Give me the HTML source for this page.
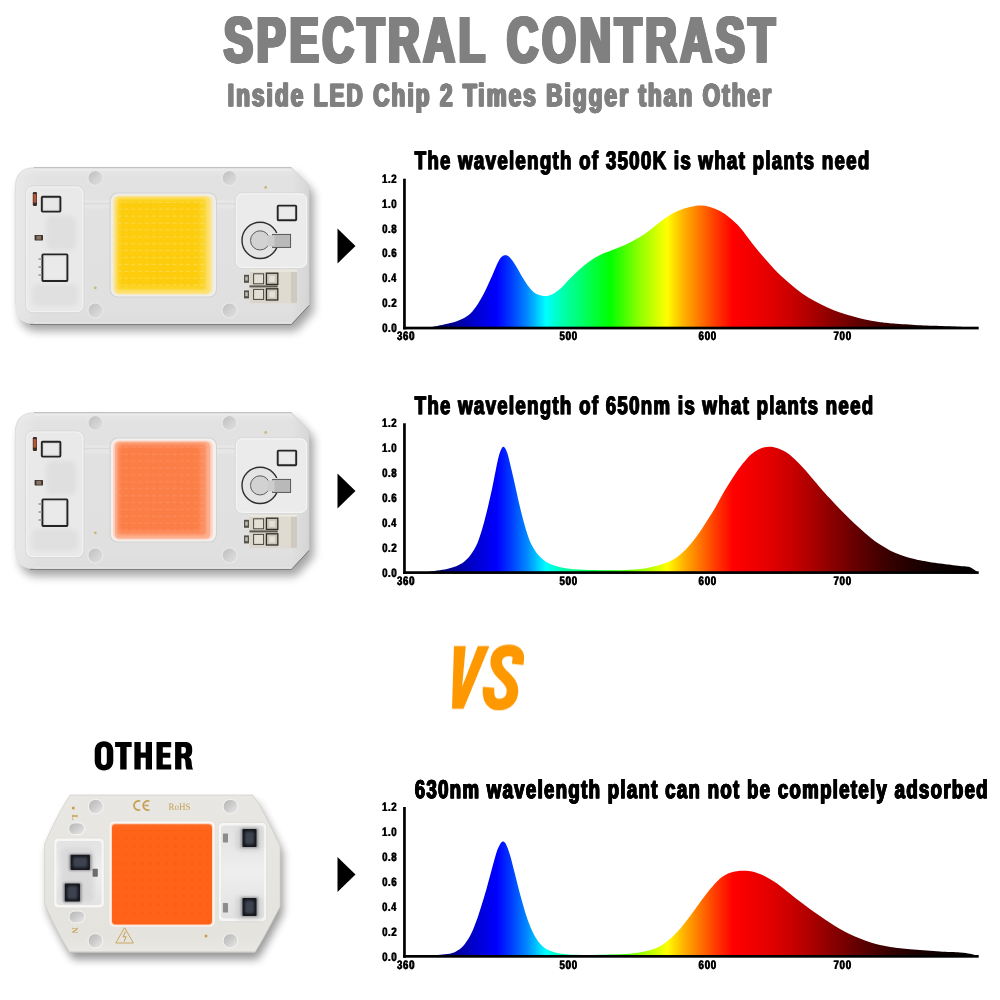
<!DOCTYPE html>
<html><head><meta charset="utf-8"><title>Spectral Contrast</title>
<style>html,body{margin:0;padding:0;background:#fff;}svg{display:block;font-family:"Liberation Sans",sans-serif;text-rendering:geometricPrecision;}</style></head><body>
<svg width="1000" height="1000" viewBox="0 0 1000 1000">
<defs>
<linearGradient id="spec" gradientUnits="userSpaceOnUse" x1="0" y1="0" x2="1000" y2="0">
<stop offset="0.4280" stop-color="#00004c"/>
<stop offset="0.4500" stop-color="#000088"/>
<stop offset="0.4750" stop-color="#0000d0"/>
<stop offset="0.4970" stop-color="#0000ff"/>
<stop offset="0.5120" stop-color="#0040ff"/>
<stop offset="0.5270" stop-color="#0088ff"/>
<stop offset="0.5460" stop-color="#00ffff"/>
<stop offset="0.5620" stop-color="#00ffb0"/>
<stop offset="0.5800" stop-color="#00ff70"/>
<stop offset="0.6100" stop-color="#00ff00"/>
<stop offset="0.6380" stop-color="#88ff00"/>
<stop offset="0.6670" stop-color="#ffff00"/>
<stop offset="0.6830" stop-color="#ffb400"/>
<stop offset="0.6990" stop-color="#ff7800"/>
<stop offset="0.7150" stop-color="#ff3c00"/>
<stop offset="0.7330" stop-color="#ff0000"/>
<stop offset="0.7650" stop-color="#e80000"/>
<stop offset="0.7900" stop-color="#cc0000"/>
<stop offset="0.8150" stop-color="#a60000"/>
<stop offset="0.8400" stop-color="#7e0000"/>
<stop offset="0.8650" stop-color="#580000"/>
<stop offset="0.8900" stop-color="#360000"/>
<stop offset="0.9150" stop-color="#1e0000"/>
<stop offset="0.9400" stop-color="#0c0000"/>
<stop offset="0.9780" stop-color="#000000"/>
</linearGradient>
<filter id="gray" filterUnits="userSpaceOnUse" x="0" y="0" width="1000" height="1000"><feOffset dx="0" dy="0"/></filter>
<filter id="blur4" x="-10%" y="-15%" width="125%" height="135%"><feGaussianBlur stdDeviation="4.2"/></filter>
<filter id="blur5" x="-10%" y="-15%" width="125%" height="140%"><feGaussianBlur stdDeviation="5"/></filter>
<filter id="blur15" x="-10%" y="-10%" width="120%" height="120%"><feGaussianBlur stdDeviation="1.5"/></filter>
<filter id="blur2" x="-30%" y="-30%" width="160%" height="160%"><feGaussianBlur stdDeviation="2"/></filter>
<filter id="blur1" x="-30%" y="-30%" width="160%" height="160%"><feGaussianBlur stdDeviation="0.9"/></filter>
<linearGradient id="boardA" x1="0" y1="0" x2="0" y2="1"><stop offset="0" stop-color="#e8e8e8"/><stop offset="0.06" stop-color="#e2e2e2"/><stop offset="0.9" stop-color="#e0e0e0"/><stop offset="1" stop-color="#dddddd"/></linearGradient>
<linearGradient id="boardAx" x1="0" y1="0" x2="1" y2="0"><stop offset="0" stop-color="#fff" stop-opacity="0.25"/><stop offset="0.08" stop-color="#fff" stop-opacity="0"/><stop offset="0.94" stop-color="#000" stop-opacity="0"/><stop offset="1" stop-color="#000" stop-opacity="0.05"/></linearGradient>
<linearGradient id="holeA" x1="0" y1="0" x2="1" y2="1"><stop offset="0" stop-color="#bebebe"/><stop offset="0.55" stop-color="#d2d2d2"/><stop offset="1" stop-color="#e0e0e0"/></linearGradient>
<linearGradient id="holeB" x1="0" y1="0" x2="1" y2="1"><stop offset="0" stop-color="#b4b4b4"/><stop offset="0.5" stop-color="#cdcdcd"/><stop offset="1" stop-color="#ececec"/></linearGradient>
<linearGradient id="boardB" x1="0" y1="0" x2="0" y2="1"><stop offset="0" stop-color="#e8e7e3"/><stop offset="0.9" stop-color="#e4e3de"/><stop offset="1" stop-color="#e9e8e4"/></linearGradient>
<linearGradient id="padB" x1="0" y1="0" x2="0" y2="1"><stop offset="0" stop-color="#e2e2e2"/><stop offset="0.5" stop-color="#eeeeee"/><stop offset="1" stop-color="#e2e2e2"/></linearGradient>
<radialGradient id="ledY" cx="0.5" cy="0.52" r="0.72"><stop offset="0" stop-color="#ffd335"/><stop offset="0.72" stop-color="#ffd53f"/><stop offset="1" stop-color="#ffdf6c"/></radialGradient>
<radialGradient id="ledP" cx="0.5" cy="0.52" r="0.72"><stop offset="0" stop-color="#ff7f46"/><stop offset="0.72" stop-color="#ff8149"/><stop offset="1" stop-color="#ff9467"/></radialGradient>
<linearGradient id="ledshadeV" x1="0" y1="0" x2="0" y2="1"><stop offset="0" stop-color="#fff" stop-opacity="0.32"/><stop offset="0.07" stop-color="#fff" stop-opacity="0.12"/><stop offset="0.14" stop-color="#fff" stop-opacity="0"/><stop offset="0.86" stop-color="#fff" stop-opacity="0"/><stop offset="0.93" stop-color="#fff" stop-opacity="0.34"/><stop offset="1" stop-color="#fff" stop-opacity="0.22"/></linearGradient>
<linearGradient id="ledshadeH" x1="0" y1="0" x2="1" y2="0"><stop offset="0" stop-color="#fff" stop-opacity="0.28"/><stop offset="0.06" stop-color="#fff" stop-opacity="0"/><stop offset="0.93" stop-color="#fff" stop-opacity="0"/><stop offset="1" stop-color="#fff" stop-opacity="0.30"/></linearGradient>
<linearGradient id="ledO" x1="0" y1="0" x2="0" y2="1"><stop offset="0" stop-color="#ff6a22"/><stop offset="0.08" stop-color="#ff6318"/><stop offset="1" stop-color="#ff6218"/></linearGradient>
<pattern id="dotsA" x="116" y="199" width="6.9" height="6.9" patternUnits="userSpaceOnUse"><rect x="1.2" y="2.6" width="4.2" height="1.3" rx="0.6" fill="#fff" opacity="0.22"/></pattern>
<pattern id="dotsB" x="113" y="826" width="8.3" height="8.3" patternUnits="userSpaceOnUse"><rect x="2.6" y="2.6" width="3" height="3" rx="1.2" fill="#e64a00" opacity="0.16"/></pattern>
</defs>
<rect width="1000" height="1000" fill="#fff"/>
<g filter="url(#gray)">
<g transform="translate(223.97,62.39) scale(0.6720,1)" fill="#808080" stroke="#808080" stroke-width="1.63" stroke-linejoin="miter" stroke-miterlimit="2.5" font-size="64.31" font-weight="bold" letter-spacing="6.00">
<text x="-2.19" y="0">SPECTRAL</text>
<text x="-1.31" y="0">SPECTRAL</text>
<text x="-0.44" y="0">SPECTRAL</text>
<text x="0.44" y="0">SPECTRAL</text>
<text x="1.31" y="0">SPECTRAL</text>
<text x="2.19" y="0">SPECTRAL</text>
</g>
<g transform="translate(507.05,62.39) scale(0.6705,1)" fill="#808080" stroke="#808080" stroke-width="1.63" stroke-linejoin="miter" stroke-miterlimit="2.5" font-size="64.31" font-weight="bold" letter-spacing="6.04">
<text x="-2.21" y="0">CONTRAST</text>
<text x="-1.32" y="0">CONTRAST</text>
<text x="-0.44" y="0">CONTRAST</text>
<text x="0.44" y="0">CONTRAST</text>
<text x="1.32" y="0">CONTRAST</text>
<text x="2.21" y="0">CONTRAST</text>
</g>
<g transform="translate(227.77,106.44) scale(0.7050,1)" fill="#808080" stroke="#808080" stroke-width="0.91" stroke-linejoin="miter" stroke-miterlimit="2.5" font-size="31.72" font-weight="bold" letter-spacing="3.06">
<text x="-1.07" y="0">Inside LED Chip 2 Times Bigger than Other</text>
<text x="-0.36" y="0">Inside LED Chip 2 Times Bigger than Other</text>
<text x="0.36" y="0">Inside LED Chip 2 Times Bigger than Other</text>
<text x="1.07" y="0">Inside LED Chip 2 Times Bigger than Other</text>
</g>
<g transform="translate(0,0)">
<path d="M34,167.5 H291.6 L309,185.6 V305 L291.5,324 H34 Q15,324 15,304 V188 Q15,167.5 34,167.5Z" fill="#000" opacity="0.36" filter="url(#blur5)" transform="translate(4.5,7)"/>
<path d="M34,167.5 H291.6 L309,185.6 V305 L291.5,324 H34 Q15,324 15,304 V188 Q15,167.5 34,167.5Z" fill="url(#boardA)"/>
<path d="M34,167.5 H291.6 L309,185.6 V305 L291.5,324 H34 Q15,324 15,304 V188 Q15,167.5 34,167.5Z" fill="url(#boardAx)"/>
<path d="M34,167.7 H291.6" stroke="#9c9c9c" stroke-width="0.7" fill="none"/>
<path d="M291.6,167.7 L309,185.8 V305" stroke="#cfcfcf" stroke-width="0.8" fill="none"/>
<path d="M34,323.2 H291.3" stroke="#f6f6f6" stroke-width="0.8" fill="none"/>
<path d="M30,324.4 H291.6 L309.2,305.4" stroke="#7a7a7a" stroke-width="1" fill="none"/>
<path d="M15.3,304 V188 Q15.3,167.8 34,167.8" stroke="#dadada" stroke-width="0.8" fill="none"/>
<rect x="34" y="168.6" width="256" height="2" fill="#ececec" opacity="0.8"/>
<circle cx="95.4" cy="178.1" r="7.0" fill="url(#holeA)"/>
<circle cx="95.4" cy="178.1" r="7.6" fill="none" stroke="#e8e8e8" stroke-width="1.1"/>
<circle cx="229.6" cy="178.1" r="7.0" fill="url(#holeA)"/>
<circle cx="229.6" cy="178.1" r="7.6" fill="none" stroke="#e8e8e8" stroke-width="1.1"/>
<circle cx="95.4" cy="310.4" r="7.0" fill="url(#holeA)"/>
<circle cx="95.4" cy="310.4" r="7.6" fill="none" stroke="#e8e8e8" stroke-width="1.1"/>
<circle cx="229.6" cy="310.4" r="7.0" fill="url(#holeA)"/>
<circle cx="229.6" cy="310.4" r="7.6" fill="none" stroke="#e8e8e8" stroke-width="1.1"/>
<rect x="83.5" y="200" width="153" height="8.5" fill="#e6e6e6"/>
<rect x="83.5" y="203.2" width="153" height="1" fill="#d8d8d8"/>
<rect x="26.5" y="186.8" width="56.6" height="125" rx="6.5" fill="#e9e9e9" stroke="#f2f2f2" stroke-width="1.6"/>
<rect x="25.6" y="185.9" width="58.4" height="126.8" rx="7.3" fill="none" stroke="#d2d2d2" stroke-width="0.7"/>
<rect x="46" y="216" width="30" height="34" rx="6" fill="#dfdfdf" filter="url(#blur2)"/>
<rect x="32" y="284" width="46" height="22" rx="6" fill="#e0e0e0" filter="url(#blur2)"/>
<rect x="41.8" y="196.8" width="18.6" height="14.8" rx="0.8" fill="#dcdcdc" stroke="#242424" stroke-width="1.9"/>
<rect x="44.0" y="199.0" width="14.200000000000001" height="10.4" fill="#ececec" opacity="0.75"/>
<rect x="42.4" y="254.4" width="25" height="26.6" rx="0.8" fill="#e2e2e2" stroke="#242424" stroke-width="1.9"/>
<rect x="44.6" y="256.6" width="20.6" height="22.200000000000003" fill="#ececec" opacity="0.75"/>
<rect x="32.8" y="192" width="4.2" height="14" rx="1.2" fill="#3b2c28"/>
<rect x="33.4" y="194" width="3" height="8.6" fill="#b4553a"/>
<rect x="34.6" y="235" width="8.4" height="5.4" rx="0.6" fill="#3a3430"/>
<rect x="36.4" y="235.8" width="4.8" height="3.8" fill="#8a7260"/>
<rect x="38.5" y="258" width="3" height="2" fill="#a9a9a9"/>
<rect x="38.5" y="266" width="3" height="2" fill="#a9a9a9"/>
<rect x="38.5" y="274" width="3" height="2" fill="#a9a9a9"/>
<circle cx="95.3" cy="287.8" r="1.4" fill="#c9b777"/>
<circle cx="265.7" cy="187.4" r="1.4" fill="#c9b777"/>
<rect x="236.2" y="193.6" width="70.6" height="74" rx="6.5" fill="#ebebeb" stroke="#f4f4f4" stroke-width="1.6"/>
<rect x="235.3" y="192.7" width="72.4" height="75.8" rx="7.3" fill="none" stroke="#d2d2d2" stroke-width="0.7"/>
<rect x="277.7" y="205.6" width="18.5" height="14.6" rx="0.8" fill="#e4e4e4" stroke="#242424" stroke-width="1.9"/>
<rect x="279.9" y="207.79999999999998" width="14.1" height="10.2" fill="#ececec" opacity="0.75"/>
<circle cx="260.1" cy="240.4" r="18.1" fill="#e4e4e4" stroke="#2e2e2e" stroke-width="1.4"/>
<path d="M267,233 H290.6 V247.6 H267Z" fill="#e8e8e8"/>
<rect x="272.6" y="234.4" width="18" height="13" fill="#b9b9b9" stroke="#4c4c4c" stroke-width="0.9"/>
<circle cx="260.1" cy="240.4" r="9.6" fill="#d2d2d2" stroke="#5d5d5d" stroke-width="1"/>
<rect x="267.5" y="235.3" width="7" height="11.2" fill="#cdcdcd"/>
<rect x="249.5" y="269.6" width="47.5" height="33.6" rx="1" fill="#d9d5ca"/>
<rect x="277.8" y="270" width="19" height="32.8" fill="#dfdbd1"/>
<rect x="291" y="270" width="6" height="32.8" fill="#cfcabf"/>
<rect x="249.5" y="269.6" width="47.5" height="2.2" fill="#ebe8e0"/>
<rect x="266.4" y="273.2" width="11.4" height="11.2" fill="#cbc6ba" stroke="#302c27" stroke-width="1.3"/>
<rect x="269.3" y="275.8" width="5.6" height="6" fill="#e5e1d8"/>
<rect x="253.6" y="273.8" width="10" height="10" fill="#e3dfd5" stroke="#4a453e" stroke-width="1"/>
<rect x="244" y="274.8" width="5" height="8" fill="#55514a"/>
<rect x="245.2" y="276.59999999999997" width="2.6" height="4" fill="#bdb9b0"/>
<rect x="266.4" y="288.8" width="11.4" height="11.2" fill="#cbc6ba" stroke="#302c27" stroke-width="1.3"/>
<rect x="269.3" y="291.40000000000003" width="5.6" height="6" fill="#e5e1d8"/>
<rect x="253.6" y="289.40000000000003" width="10" height="10" fill="#e3dfd5" stroke="#4a453e" stroke-width="1"/>
<rect x="244" y="290.40000000000003" width="5" height="8" fill="#55514a"/>
<rect x="245.2" y="292.2" width="2.6" height="4" fill="#bdb9b0"/>
<rect x="249.5" y="285.4" width="28.3" height="2" fill="#5b564e"/>
<rect x="109.6" y="192.6" width="107.4" height="105" rx="8" fill="#d3d3d3"/>
<rect x="110.8" y="193.6" width="105.2" height="103" rx="7.2" fill="#efeee8"/>
<rect x="113" y="195.4" width="99.8" height="99.4" rx="5.8" fill="#f8e6ae"/>
<rect x="114.8" y="196.8" width="95.6" height="96.8" rx="5" fill="#fde070"/>
<rect x="117.5" y="198.6" width="88.5" height="91.4" rx="4" fill="#fbd52c" filter="url(#blur1)"/>
<rect x="119.6" y="201.5" width="80" height="84.5" rx="3.5" fill="#fccc0c" filter="url(#blur15)"/>
<rect x="119" y="202" width="86" height="86" fill="url(#dotsA)" opacity="1.0"/>
</g>
<g transform="translate(0,245)">
<path d="M34,167.5 H291.6 L309,185.6 V305 L291.5,324 H34 Q15,324 15,304 V188 Q15,167.5 34,167.5Z" fill="#000" opacity="0.36" filter="url(#blur5)" transform="translate(4.5,7)"/>
<path d="M34,167.5 H291.6 L309,185.6 V305 L291.5,324 H34 Q15,324 15,304 V188 Q15,167.5 34,167.5Z" fill="url(#boardA)"/>
<path d="M34,167.5 H291.6 L309,185.6 V305 L291.5,324 H34 Q15,324 15,304 V188 Q15,167.5 34,167.5Z" fill="url(#boardAx)"/>
<path d="M34,167.7 H291.6" stroke="#9c9c9c" stroke-width="0.7" fill="none"/>
<path d="M291.6,167.7 L309,185.8 V305" stroke="#cfcfcf" stroke-width="0.8" fill="none"/>
<path d="M34,323.2 H291.3" stroke="#f6f6f6" stroke-width="0.8" fill="none"/>
<path d="M30,324.4 H291.6 L309.2,305.4" stroke="#7a7a7a" stroke-width="1" fill="none"/>
<path d="M15.3,304 V188 Q15.3,167.8 34,167.8" stroke="#dadada" stroke-width="0.8" fill="none"/>
<rect x="34" y="168.6" width="256" height="2" fill="#ececec" opacity="0.8"/>
<circle cx="95.4" cy="178.1" r="7.0" fill="url(#holeA)"/>
<circle cx="95.4" cy="178.1" r="7.6" fill="none" stroke="#e8e8e8" stroke-width="1.1"/>
<circle cx="229.6" cy="178.1" r="7.0" fill="url(#holeA)"/>
<circle cx="229.6" cy="178.1" r="7.6" fill="none" stroke="#e8e8e8" stroke-width="1.1"/>
<circle cx="95.4" cy="310.4" r="7.0" fill="url(#holeA)"/>
<circle cx="95.4" cy="310.4" r="7.6" fill="none" stroke="#e8e8e8" stroke-width="1.1"/>
<circle cx="229.6" cy="310.4" r="7.0" fill="url(#holeA)"/>
<circle cx="229.6" cy="310.4" r="7.6" fill="none" stroke="#e8e8e8" stroke-width="1.1"/>
<rect x="83.5" y="200" width="153" height="8.5" fill="#e6e6e6"/>
<rect x="83.5" y="203.2" width="153" height="1" fill="#d8d8d8"/>
<rect x="26.5" y="186.8" width="56.6" height="125" rx="6.5" fill="#e9e9e9" stroke="#f2f2f2" stroke-width="1.6"/>
<rect x="25.6" y="185.9" width="58.4" height="126.8" rx="7.3" fill="none" stroke="#d2d2d2" stroke-width="0.7"/>
<rect x="46" y="216" width="30" height="34" rx="6" fill="#dfdfdf" filter="url(#blur2)"/>
<rect x="32" y="284" width="46" height="22" rx="6" fill="#e0e0e0" filter="url(#blur2)"/>
<rect x="41.8" y="196.8" width="18.6" height="14.8" rx="0.8" fill="#dcdcdc" stroke="#242424" stroke-width="1.9"/>
<rect x="44.0" y="199.0" width="14.200000000000001" height="10.4" fill="#ececec" opacity="0.75"/>
<rect x="42.4" y="254.4" width="25" height="26.6" rx="0.8" fill="#e2e2e2" stroke="#242424" stroke-width="1.9"/>
<rect x="44.6" y="256.6" width="20.6" height="22.200000000000003" fill="#ececec" opacity="0.75"/>
<rect x="32.8" y="192" width="4.2" height="14" rx="1.2" fill="#3b2c28"/>
<rect x="33.4" y="194" width="3" height="8.6" fill="#b4553a"/>
<rect x="34.6" y="235" width="8.4" height="5.4" rx="0.6" fill="#3a3430"/>
<rect x="36.4" y="235.8" width="4.8" height="3.8" fill="#8a7260"/>
<rect x="38.5" y="258" width="3" height="2" fill="#a9a9a9"/>
<rect x="38.5" y="266" width="3" height="2" fill="#a9a9a9"/>
<rect x="38.5" y="274" width="3" height="2" fill="#a9a9a9"/>
<circle cx="95.3" cy="287.8" r="1.4" fill="#c9b777"/>
<circle cx="265.7" cy="187.4" r="1.4" fill="#c9b777"/>
<rect x="236.2" y="193.6" width="70.6" height="74" rx="6.5" fill="#ebebeb" stroke="#f4f4f4" stroke-width="1.6"/>
<rect x="235.3" y="192.7" width="72.4" height="75.8" rx="7.3" fill="none" stroke="#d2d2d2" stroke-width="0.7"/>
<rect x="277.7" y="205.6" width="18.5" height="14.6" rx="0.8" fill="#e4e4e4" stroke="#242424" stroke-width="1.9"/>
<rect x="279.9" y="207.79999999999998" width="14.1" height="10.2" fill="#ececec" opacity="0.75"/>
<circle cx="260.1" cy="240.4" r="18.1" fill="#e4e4e4" stroke="#2e2e2e" stroke-width="1.4"/>
<path d="M267,233 H290.6 V247.6 H267Z" fill="#e8e8e8"/>
<rect x="272.6" y="234.4" width="18" height="13" fill="#b9b9b9" stroke="#4c4c4c" stroke-width="0.9"/>
<circle cx="260.1" cy="240.4" r="9.6" fill="#d2d2d2" stroke="#5d5d5d" stroke-width="1"/>
<rect x="267.5" y="235.3" width="7" height="11.2" fill="#cdcdcd"/>
<rect x="249.5" y="269.6" width="47.5" height="33.6" rx="1" fill="#d9d5ca"/>
<rect x="277.8" y="270" width="19" height="32.8" fill="#dfdbd1"/>
<rect x="291" y="270" width="6" height="32.8" fill="#cfcabf"/>
<rect x="249.5" y="269.6" width="47.5" height="2.2" fill="#ebe8e0"/>
<rect x="266.4" y="273.2" width="11.4" height="11.2" fill="#cbc6ba" stroke="#302c27" stroke-width="1.3"/>
<rect x="269.3" y="275.8" width="5.6" height="6" fill="#e5e1d8"/>
<rect x="253.6" y="273.8" width="10" height="10" fill="#e3dfd5" stroke="#4a453e" stroke-width="1"/>
<rect x="244" y="274.8" width="5" height="8" fill="#55514a"/>
<rect x="245.2" y="276.59999999999997" width="2.6" height="4" fill="#bdb9b0"/>
<rect x="266.4" y="288.8" width="11.4" height="11.2" fill="#cbc6ba" stroke="#302c27" stroke-width="1.3"/>
<rect x="269.3" y="291.40000000000003" width="5.6" height="6" fill="#e5e1d8"/>
<rect x="253.6" y="289.40000000000003" width="10" height="10" fill="#e3dfd5" stroke="#4a453e" stroke-width="1"/>
<rect x="244" y="290.40000000000003" width="5" height="8" fill="#55514a"/>
<rect x="245.2" y="292.2" width="2.6" height="4" fill="#bdb9b0"/>
<rect x="249.5" y="285.4" width="28.3" height="2" fill="#5b564e"/>
<rect x="109.6" y="192.6" width="107.4" height="105" rx="8" fill="#d3d3d3"/>
<rect x="110.8" y="193.6" width="105.2" height="103" rx="7.2" fill="#f3f0ee"/>
<rect x="113" y="195.4" width="99.8" height="99.4" rx="5.8" fill="#fdd5c5"/>
<rect x="114.8" y="196.8" width="95.6" height="96.8" rx="5" fill="#fcae8e"/>
<rect x="117.5" y="198.6" width="88.5" height="91.4" rx="4" fill="#fc8e5e" filter="url(#blur1)"/>
<rect x="119.6" y="201.5" width="80" height="84.5" rx="3.5" fill="#fc7e47" filter="url(#blur15)"/>
<rect x="119" y="202" width="86" height="86" fill="url(#dotsA)" opacity="0.45"/>
</g>
<g>
<path d="M70,795 H253 Q262,808 280,846 V906.6 Q264,938 254.8,952.4 H70 Q58,934 44.6,904 V844 Q57,815 70,795Z" fill="#000" opacity="0.40" filter="url(#blur4)" transform="translate(3,7)"/>
<path d="M70,795 H253 Q262,808 280,846 V906.6 Q264,938 254.8,952.4 H70 Q58,934 44.6,904 V844 Q57,815 70,795Z" fill="url(#boardB)"/>
<path d="M70,795 H253 Q262,808 280,846 V906.6 Q264,938 254.8,952.4 H70 Q58,934 44.6,904 V844 Q57,815 70,795Z" fill="none" stroke="#d4d2cc" stroke-width="0.8"/>
<path d="M70,952.2 H254.8" stroke="#b4b2ac" stroke-width="0.8"/>
<rect x="88.39999999999999" y="799.4" width="14.8" height="14.4" rx="7.2" fill="url(#holeB)"/>
<rect x="88.39999999999999" y="799.4" width="14.8" height="14.4" rx="7.2" fill="none" stroke="#f7f7f5" stroke-width="0.9"/>
<rect x="223.1" y="799.4" width="14.8" height="14.4" rx="7.2" fill="url(#holeB)"/>
<rect x="223.1" y="799.4" width="14.8" height="14.4" rx="7.2" fill="none" stroke="#f7f7f5" stroke-width="0.9"/>
<rect x="88.1" y="933.5999999999999" width="14.8" height="14.4" rx="7.2" fill="url(#holeB)"/>
<rect x="88.1" y="933.5999999999999" width="14.8" height="14.4" rx="7.2" fill="none" stroke="#f7f7f5" stroke-width="0.9"/>
<rect x="223.1" y="933.5999999999999" width="14.8" height="14.4" rx="7.2" fill="url(#holeB)"/>
<rect x="223.1" y="933.5999999999999" width="14.8" height="14.4" rx="7.2" fill="none" stroke="#f7f7f5" stroke-width="0.9"/>
<rect x="68.6" y="822.9" width="16" height="11.8" rx="5.9" fill="url(#holeB)"/>
<rect x="68.6" y="822.9" width="16" height="11.8" rx="5.9" fill="none" stroke="#f7f7f5" stroke-width="0.9"/>
<rect x="69" y="911.1" width="16" height="11.8" rx="5.9" fill="url(#holeB)"/>
<rect x="69" y="911.1" width="16" height="11.8" rx="5.9" fill="none" stroke="#f7f7f5" stroke-width="0.9"/>
<rect x="53.7" y="838" width="50.6" height="70" rx="4.5" fill="#f6f6f5" stroke="#dddbd6" stroke-width="0.7"/>
<rect x="56.4" y="841" width="45.2" height="64" rx="3.5" fill="url(#padB)"/>
<rect x="60" y="848" width="34" height="54" rx="6" fill="#d4d4d4" opacity="0.75" filter="url(#blur2)"/>
<rect x="69.0" y="854.0" width="22.5" height="16.8" rx="1.5" fill="#8f9094" filter="url(#blur1)"/>
<rect x="70.6" y="854.8" width="19.3" height="15.2" rx="0.8" fill="#16181d"/>
<rect x="73.1" y="857.3" width="14.3" height="10.2" rx="2" fill="#3c4350" filter="url(#blur1)"/>
<rect x="63.199999999999996" y="882.8000000000001" width="18.4" height="19.6" rx="1.5" fill="#8f9094" filter="url(#blur1)"/>
<rect x="64.8" y="883.6" width="15.2" height="18" rx="0.8" fill="#16181d"/>
<rect x="67.3" y="886.1" width="10.2" height="13" rx="2" fill="#3c4350" filter="url(#blur1)"/>
<rect x="92.6" y="868.7" width="5.2" height="8" rx="0.6" fill="#6c6c6e"/>
<rect x="218.3" y="822.4" width="48.3" height="99.2" rx="4.5" fill="#f6f6f5" stroke="#dddbd6" stroke-width="0.7"/>
<rect x="221" y="825.4" width="43" height="93.2" rx="3.5" fill="url(#padB)"/>
<rect x="236" y="827" width="26" height="24" rx="5" fill="#cfcfcf" opacity="0.8" filter="url(#blur2)"/>
<rect x="236" y="896" width="26" height="24" rx="5" fill="#cfcfcf" opacity="0.8" filter="url(#blur2)"/>
<rect x="240.9" y="828.2" width="17.2" height="19.6" rx="1.5" fill="#8f9094" filter="url(#blur1)"/>
<rect x="242.5" y="829" width="14" height="18" rx="0.8" fill="#16181d"/>
<rect x="245.0" y="831.5" width="9" height="13" rx="2" fill="#3c4350" filter="url(#blur1)"/>
<rect x="240.9" y="897.2" width="17.2" height="19.6" rx="1.5" fill="#8f9094" filter="url(#blur1)"/>
<rect x="242.5" y="898" width="14" height="18" rx="0.8" fill="#16181d"/>
<rect x="245.0" y="900.5" width="9" height="13" rx="2" fill="#3c4350" filter="url(#blur1)"/>
<rect x="222.9" y="833.4" width="5.1" height="9" rx="0.6" fill="#8c8c8e"/>
<rect x="222.9" y="903" width="5.1" height="9.6" rx="0.6" fill="#8c8c8e"/>
<path d="M140.2,801.2 A4.6,4.6 0 1 0 140.2,809.8" fill="none" stroke="#c6a052" stroke-width="1.7"/>
<path d="M149.4,801.2 A4.6,4.6 0 1 0 149.4,809.8 M144.4,805.5 H148.6" fill="none" stroke="#c6a052" stroke-width="1.7"/>
<text x="168.5" y="809.6" font-family='"Liberation Serif", serif' font-size="9.8" fill="#c6a052" textLength="22" lengthAdjust="spacingAndGlyphs">RoHS</text>
<path d="M124.6,927.6 L133.4,943 H115.8 Z" fill="none" stroke="#c6a052" stroke-width="0.9" stroke-linejoin="round"/>
<path d="M125.6,931.4 L123,936.8 H126.2 L124,941.6" fill="none" stroke="#c6a052" stroke-width="1"/>
<circle cx="206" cy="936" r="1.5" fill="#c6a052"/>
<circle cx="73.3" cy="808" r="1.5" fill="#c6a052"/>
<text x="0" y="0" font-family='"Liberation Serif", serif' font-size="8.5" font-weight="bold" fill="#c6a052" transform="translate(71.8,814.6) rotate(90)">L</text>
<text x="0" y="0" font-family='"Liberation Serif", serif' font-size="8.5" font-weight="bold" fill="#c6a052" transform="translate(72.4,927.2) rotate(90)">N</text>
<rect x="109.1" y="821" width="105.9" height="106" rx="5.5" fill="#f9f9f8" stroke="#e4e2dd" stroke-width="0.8"/>
<rect x="110.8" y="823" width="102.4" height="102.4" rx="4.2" fill="#ffd9c2"/>
<rect x="112" y="824.3" width="100" height="100.1" rx="3.4" fill="url(#ledO)"/>
<rect x="116" y="830" width="92" height="90" fill="url(#dotsB)"/>
</g>
<path d="M337.5,228.5 L355.5,246 L337.5,263.5 Z" fill="#000"/>
<path d="M337.5,473.5 L355.5,491 L337.5,508.5 Z" fill="#000"/>
<path d="M337.5,857.0 L355.5,874.5 L337.5,892.0 Z" fill="#000"/>
<g transform="translate(430,635) scale(0.11)">
<path d="M218,100 L325,100 L292,470 L435,100 L540,100 L305,672 L200,672 Z" fill="#fe9800"/>
<path d="M533,475 C525,560 545,632 625,633 C705,634 750,580 750,505 C750,440 700,400 655,355 C615,315 598,280 602,235 C608,175 650,140 720,140 C785,140 808,180 803,215 L797,268" fill="none" stroke="#fe9800" stroke-width="105"/>
</g>
<g fill="#000" fill-rule="evenodd">
<path d="M104,741.3 C109.5,741.3 113.3,745 113.3,751 V760.7 C113.3,766.7 109.5,770.4 104,770.4 C98.5,770.4 94.7,766.7 94.7,760.7 V751 C94.7,745 98.5,741.3 104,741.3 Z M104,746.7 C102.2,746.7 101.1,748 101.1,750 V761.7 C101.1,763.7 102.2,765 104,765 C105.8,765 106.8,763.7 106.8,761.7 V750 C106.8,748 105.8,746.7 104,746.7 Z"/>
<path d="M115.1,742.1 H131.7 V747.1 H126.6 V769.5 H120.2 V747.1 H115.1 Z"/>
<path d="M134.4,742.1 H140.7 V752.5 H145.7 V742.1 H152 V769.5 H145.7 V757.8 H140.7 V769.5 H134.4 Z"/>
<path d="M156.5,742.1 H171.2 V747.3 H162.8 V752.7 H170.3 V757.8 H162.8 V764.4 H171.2 V769.5 H156.5 Z"/>
<path d="M175.1,742.1 H185.2 C189.8,742.1 192.2,744.8 192.2,749 V751.2 C192.2,754.2 191,756.2 188.8,757.2 C190.6,758 191.4,759.6 191.6,762 C191.8,765.5 192.2,768 193.1,769.5 H186.6 C185.8,768 185.5,765.5 185.4,762.5 C185.3,759.3 184.6,758.3 182.8,758.3 H181.4 V769.5 H175.1 Z M181.4,747 V753.4 H183.6 C185.2,753.4 185.9,752.5 185.9,751 V749.4 C185.9,747.8 185.2,747 183.6,747 Z"/>
</g>
<g transform="translate(414.61,169.19) scale(0.7371,1)" fill="#000" stroke="#000" stroke-width="0.81" stroke-linejoin="miter" stroke-miterlimit="2.5" font-size="25.34" font-weight="bold" letter-spacing="1.75">
<text x="-0.47" y="0">The wavelength of 3500K is what plants need</text>
<text x="0.47" y="0">The wavelength of 3500K is what plants need</text>
</g>
<path d="M429.6,328.1 L429.6,327.3 C432.0,326.8 439.5,325.4 444.0,324.4 C448.5,323.4 452.8,322.7 456.8,321.2 C460.8,319.7 464.8,318.0 468.0,315.6 C471.2,313.2 473.3,310.5 476.0,306.8 C478.7,303.1 481.6,297.7 484.0,293.2 C486.4,288.7 488.5,283.7 490.4,279.6 C492.3,275.5 493.6,271.9 495.2,268.4 C496.8,264.9 498.4,261.0 500.0,258.8 C501.6,256.6 503.2,255.6 504.8,255.3 C506.4,255.0 507.7,255.4 509.6,257.2 C511.5,259.0 513.9,262.7 516.0,266.0 C518.1,269.3 520.3,273.7 522.4,277.2 C524.5,280.7 526.7,284.1 528.8,286.8 C530.9,289.5 532.8,291.7 535.2,293.2 C537.6,294.7 540.5,295.6 543.2,295.9 C545.9,296.2 548.3,296.1 551.2,294.8 C554.1,293.5 557.7,290.9 560.8,288.2 C563.9,285.5 566.8,281.7 570.0,278.5 C573.2,275.3 576.7,271.9 580.0,269.0 C583.3,266.1 586.7,263.3 590.0,261.0 C593.3,258.7 596.7,256.7 600.0,255.0 C603.3,253.3 606.7,252.3 610.0,251.0 C613.3,249.7 616.7,248.4 620.0,247.0 C623.3,245.6 626.7,244.1 630.0,242.4 C633.3,240.7 636.7,239.1 640.0,237.0 C643.3,234.9 646.7,232.5 650.0,230.0 C653.3,227.5 656.7,224.5 660.0,222.0 C663.3,219.5 666.7,217.0 670.0,215.0 C673.3,213.0 676.7,211.3 680.0,210.0 C683.3,208.7 686.7,207.7 690.0,207.0 C693.3,206.3 696.7,205.6 700.0,205.6 C703.3,205.6 706.7,206.1 710.0,207.0 C713.3,207.9 716.7,209.2 720.0,211.0 C723.3,212.8 726.7,215.2 730.0,218.0 C733.3,220.8 736.2,223.2 740.0,227.5 C743.8,231.8 748.3,238.5 752.5,243.8 C756.7,249.0 760.8,254.0 765.0,258.8 C769.2,263.5 773.3,268.3 777.5,272.5 C781.7,276.7 785.8,280.2 790.0,283.8 C794.2,287.3 798.3,290.8 802.5,293.8 C806.7,296.7 810.8,299.0 815.0,301.2 C819.2,303.5 823.3,305.6 827.5,307.5 C831.7,309.4 835.8,311.0 840.0,312.5 C844.2,314.0 848.3,315.1 852.5,316.2 C856.7,317.4 860.8,318.6 865.0,319.5 C869.2,320.4 873.3,321.1 877.5,321.8 C881.7,322.4 883.8,322.7 890.0,323.2 C896.2,323.8 906.7,324.5 915.0,325.0 C923.3,325.5 929.6,325.6 940.0,326.0 C950.4,326.4 971.2,327.2 977.5,327.4 L977.5,328.1Z" fill="url(#spec)"/>
<rect x="403.1" y="178.70" width="2.7" height="150.70" fill="#000"/>
<rect x="403.1" y="326.70" width="575.6" height="2.7" fill="#000"/>
<g transform="translate(382.16,332.37) scale(0.7702,1)" fill="#000" stroke="#000" stroke-width="0.15" stroke-linejoin="miter" stroke-miterlimit="2.5" font-size="12.24" font-weight="bold" letter-spacing="0.89">
<text x="-0.37" y="0">0.0</text>
<text x="0.37" y="0">0.0</text>
</g>
<g transform="translate(382.16,307.41) scale(0.7702,1)" fill="#000" stroke="#000" stroke-width="0.15" stroke-linejoin="miter" stroke-miterlimit="2.5" font-size="12.24" font-weight="bold" letter-spacing="0.89">
<text x="-0.37" y="0">0.2</text>
<text x="0.37" y="0">0.2</text>
</g>
<g transform="translate(382.21,282.44) scale(0.7406,1)" fill="#000" stroke="#000" stroke-width="0.15" stroke-linejoin="miter" stroke-miterlimit="2.5" font-size="12.24" font-weight="bold" letter-spacing="0.99">
<text x="-0.42" y="0">0.4</text>
<text x="0.42" y="0">0.4</text>
</g>
<g transform="translate(382.17,257.47) scale(0.7658,1)" fill="#000" stroke="#000" stroke-width="0.15" stroke-linejoin="miter" stroke-miterlimit="2.5" font-size="12.24" font-weight="bold" letter-spacing="0.90">
<text x="-0.37" y="0">0.6</text>
<text x="0.37" y="0">0.6</text>
</g>
<g transform="translate(382.18,232.51) scale(0.7615,1)" fill="#000" stroke="#000" stroke-width="0.15" stroke-linejoin="miter" stroke-miterlimit="2.5" font-size="12.24" font-weight="bold" letter-spacing="0.92">
<text x="-0.38" y="0">0.8</text>
<text x="0.38" y="0">0.8</text>
</g>
<g transform="translate(381.92,207.54) scale(0.7905,1)" fill="#000" stroke="#000" stroke-width="0.15" stroke-linejoin="miter" stroke-miterlimit="2.5" font-size="12.24" font-weight="bold" letter-spacing="0.82">
<text x="-0.33" y="0">1.0</text>
<text x="0.33" y="0">1.0</text>
</g>
<g transform="translate(381.92,182.57) scale(0.7905,1)" fill="#000" stroke="#000" stroke-width="0.15" stroke-linejoin="miter" stroke-miterlimit="2.5" font-size="12.24" font-weight="bold" letter-spacing="0.82">
<text x="-0.33" y="0">1.2</text>
<text x="0.33" y="0">1.2</text>
</g>
<g transform="translate(397.04,340.45) scale(0.7765,1)" fill="#000" stroke="#000" stroke-width="0.19" stroke-linejoin="miter" stroke-miterlimit="2.5" font-size="12.33" font-weight="bold" letter-spacing="0.92">
<text x="-0.36" y="0">360</text>
<text x="0.36" y="0">360</text>
</g>
<g transform="translate(559.54,340.45) scale(0.7832,1)" fill="#000" stroke="#000" stroke-width="0.19" stroke-linejoin="miter" stroke-miterlimit="2.5" font-size="12.33" font-weight="bold" letter-spacing="0.89">
<text x="-0.35" y="0">500</text>
<text x="0.35" y="0">500</text>
</g>
<g transform="translate(698.58,340.45) scale(0.7866,1)" fill="#000" stroke="#000" stroke-width="0.19" stroke-linejoin="miter" stroke-miterlimit="2.5" font-size="12.33" font-weight="bold" letter-spacing="0.88">
<text x="-0.34" y="0">600</text>
<text x="0.34" y="0">600</text>
</g>
<g transform="translate(833.43,340.45) scale(0.7900,1)" fill="#000" stroke="#000" stroke-width="0.19" stroke-linejoin="miter" stroke-miterlimit="2.5" font-size="12.33" font-weight="bold" letter-spacing="0.87">
<text x="-0.34" y="0">700</text>
<text x="0.34" y="0">700</text>
</g>
<g transform="translate(414.61,413.74) scale(0.7367,1)" fill="#000" stroke="#000" stroke-width="0.81" stroke-linejoin="miter" stroke-miterlimit="2.5" font-size="25.34" font-weight="bold" letter-spacing="1.75">
<text x="-0.47" y="0">The wavelength of 650nm is what plants need</text>
<text x="0.47" y="0">The wavelength of 650nm is what plants need</text>
</g>
<path d="M429.0,572.6 L429.0,571.8 C432.0,571.3 441.9,570.3 447.0,569.1 C452.1,567.9 456.0,566.6 459.6,564.6 C463.2,562.6 465.9,560.4 468.6,557.4 C471.3,554.4 473.7,550.8 475.8,546.6 C477.9,542.4 479.4,537.9 481.2,532.2 C483.0,526.5 484.8,519.6 486.6,512.4 C488.4,505.2 490.5,495.9 492.0,489.0 C493.5,482.1 494.4,476.7 495.6,471.0 C496.8,465.3 497.9,458.9 499.2,454.8 C500.5,450.8 501.8,447.0 503.2,446.7 C504.6,446.4 505.9,448.9 507.3,453.0 C508.7,457.1 510.3,464.7 511.8,471.0 C513.3,477.3 514.8,484.2 516.3,490.8 C517.8,497.4 519.1,504.0 520.8,510.6 C522.4,517.2 524.4,524.7 526.2,530.4 C528.0,536.1 529.5,540.6 531.6,544.8 C533.7,549.0 536.1,552.6 538.8,555.6 C541.5,558.6 544.2,560.8 547.8,562.8 C551.4,564.8 555.3,566.2 560.4,567.3 C565.5,568.4 571.8,569.1 578.4,569.6 C585.0,570.1 593.1,570.2 600.0,570.3 C606.9,570.4 613.3,570.4 620.0,570.2 C626.7,570.0 633.7,569.9 640.0,569.1 C646.3,568.3 652.6,567.0 658.0,565.5 C663.4,564.0 667.9,562.6 672.4,560.1 C676.9,557.6 681.1,554.0 685.0,550.2 C688.9,546.5 692.2,542.4 695.8,537.6 C699.4,532.8 703.3,526.5 706.6,521.4 C709.9,516.3 712.6,512.1 715.6,507.0 C718.6,501.9 721.6,495.9 724.6,490.8 C727.6,485.7 730.6,480.9 733.6,476.4 C736.6,471.9 739.6,467.6 742.6,463.8 C745.6,460.1 748.6,456.4 751.6,453.9 C754.6,451.3 757.8,449.7 760.6,448.5 C763.5,447.3 766.0,446.8 768.7,446.7 C771.4,446.6 773.9,447.1 776.8,448.0 C779.6,448.9 782.8,450.2 785.8,452.1 C788.8,454.0 791.8,456.6 794.8,459.3 C797.8,462.1 800.8,465.3 803.8,468.6 C806.8,471.9 810.1,475.9 812.8,479.0 C815.5,482.1 817.1,484.1 820.0,487.4 C822.9,490.7 826.7,495.0 830.0,498.6 C833.3,502.2 836.7,505.8 840.0,509.2 C843.3,512.6 846.7,516.1 850.0,519.3 C853.3,522.5 856.7,525.6 860.0,528.6 C863.3,531.6 866.7,534.5 870.0,537.2 C873.3,539.9 876.7,542.4 880.0,544.6 C883.3,546.8 886.7,548.7 890.0,550.4 C893.3,552.1 896.7,553.5 900.0,554.8 C903.3,556.0 906.7,557.0 910.0,557.9 C913.3,558.8 915.0,559.2 920.0,560.2 C925.0,561.2 933.3,562.6 940.0,563.6 C946.7,564.6 955.0,565.4 960.0,566.0 C965.0,566.6 967.0,566.1 970.0,567.2 C973.0,568.3 976.7,571.6 978.0,572.5 L978.0,572.6Z" fill="url(#spec)"/>
<rect x="403.1" y="423.25" width="2.7" height="150.70" fill="#000"/>
<rect x="403.1" y="571.25" width="575.6" height="2.7" fill="#000"/>
<g transform="translate(382.16,576.92) scale(0.7702,1)" fill="#000" stroke="#000" stroke-width="0.15" stroke-linejoin="miter" stroke-miterlimit="2.5" font-size="12.24" font-weight="bold" letter-spacing="0.89">
<text x="-0.37" y="0">0.0</text>
<text x="0.37" y="0">0.0</text>
</g>
<g transform="translate(382.16,551.96) scale(0.7702,1)" fill="#000" stroke="#000" stroke-width="0.15" stroke-linejoin="miter" stroke-miterlimit="2.5" font-size="12.24" font-weight="bold" letter-spacing="0.89">
<text x="-0.37" y="0">0.2</text>
<text x="0.37" y="0">0.2</text>
</g>
<g transform="translate(382.21,526.99) scale(0.7406,1)" fill="#000" stroke="#000" stroke-width="0.15" stroke-linejoin="miter" stroke-miterlimit="2.5" font-size="12.24" font-weight="bold" letter-spacing="0.99">
<text x="-0.42" y="0">0.4</text>
<text x="0.42" y="0">0.4</text>
</g>
<g transform="translate(382.17,502.02) scale(0.7658,1)" fill="#000" stroke="#000" stroke-width="0.15" stroke-linejoin="miter" stroke-miterlimit="2.5" font-size="12.24" font-weight="bold" letter-spacing="0.90">
<text x="-0.37" y="0">0.6</text>
<text x="0.37" y="0">0.6</text>
</g>
<g transform="translate(382.18,477.06) scale(0.7615,1)" fill="#000" stroke="#000" stroke-width="0.15" stroke-linejoin="miter" stroke-miterlimit="2.5" font-size="12.24" font-weight="bold" letter-spacing="0.92">
<text x="-0.38" y="0">0.8</text>
<text x="0.38" y="0">0.8</text>
</g>
<g transform="translate(381.92,452.09) scale(0.7905,1)" fill="#000" stroke="#000" stroke-width="0.15" stroke-linejoin="miter" stroke-miterlimit="2.5" font-size="12.24" font-weight="bold" letter-spacing="0.82">
<text x="-0.33" y="0">1.0</text>
<text x="0.33" y="0">1.0</text>
</g>
<g transform="translate(381.92,427.12) scale(0.7905,1)" fill="#000" stroke="#000" stroke-width="0.15" stroke-linejoin="miter" stroke-miterlimit="2.5" font-size="12.24" font-weight="bold" letter-spacing="0.82">
<text x="-0.33" y="0">1.2</text>
<text x="0.33" y="0">1.2</text>
</g>
<g transform="translate(397.04,585.00) scale(0.7765,1)" fill="#000" stroke="#000" stroke-width="0.19" stroke-linejoin="miter" stroke-miterlimit="2.5" font-size="12.33" font-weight="bold" letter-spacing="0.92">
<text x="-0.36" y="0">360</text>
<text x="0.36" y="0">360</text>
</g>
<g transform="translate(559.54,585.00) scale(0.7832,1)" fill="#000" stroke="#000" stroke-width="0.19" stroke-linejoin="miter" stroke-miterlimit="2.5" font-size="12.33" font-weight="bold" letter-spacing="0.89">
<text x="-0.35" y="0">500</text>
<text x="0.35" y="0">500</text>
</g>
<g transform="translate(698.58,585.00) scale(0.7866,1)" fill="#000" stroke="#000" stroke-width="0.19" stroke-linejoin="miter" stroke-miterlimit="2.5" font-size="12.33" font-weight="bold" letter-spacing="0.88">
<text x="-0.34" y="0">600</text>
<text x="0.34" y="0">600</text>
</g>
<g transform="translate(833.43,585.00) scale(0.7900,1)" fill="#000" stroke="#000" stroke-width="0.19" stroke-linejoin="miter" stroke-miterlimit="2.5" font-size="12.33" font-weight="bold" letter-spacing="0.87">
<text x="-0.34" y="0">700</text>
<text x="0.34" y="0">700</text>
</g>
<g transform="translate(414.75,797.51) scale(0.7254,1)" fill="#000" stroke="#000" stroke-width="0.77" stroke-linejoin="miter" stroke-miterlimit="2.5" font-size="25.69" font-weight="bold" letter-spacing="1.79">
<text x="-0.51" y="0">630nm wavelength plant can not be completely adsorbed</text>
<text x="0.00" y="0">630nm wavelength plant can not be completely adsorbed</text>
<text x="0.51" y="0">630nm wavelength plant can not be completely adsorbed</text>
</g>
<path d="M429.0,956.4 L429.0,955.9 C432.0,955.6 442.5,954.9 447.0,954.1 C451.5,953.4 453.3,952.8 456.0,951.4 C458.7,950.0 460.8,948.7 463.2,946.0 C465.6,943.3 468.3,939.1 470.4,935.2 C472.5,931.3 474.0,927.4 475.8,922.6 C477.6,917.8 479.4,912.1 481.2,906.4 C483.0,900.7 484.8,894.7 486.6,888.4 C488.4,882.1 490.4,874.6 492.0,868.6 C493.6,862.6 495.1,856.5 496.5,852.4 C497.9,848.3 499.1,846.1 500.1,844.3 C501.2,842.5 501.8,841.6 502.8,841.6 C503.8,841.6 504.8,842.0 506.0,844.3 C507.2,846.5 508.6,850.5 510.0,855.1 C511.4,859.8 513.0,866.4 514.5,872.2 C516.0,878.1 517.5,884.5 519.0,890.2 C520.5,895.9 522.0,901.3 523.5,906.4 C525.0,911.5 526.4,916.3 528.0,920.8 C529.6,925.3 531.3,929.5 533.4,933.4 C535.5,937.3 537.9,941.4 540.6,944.2 C543.3,947.1 545.7,948.9 549.6,950.5 C553.5,952.1 558.6,953.4 564.0,954.1 C569.4,954.9 576.0,954.9 582.0,955.0 C588.0,955.1 593.7,954.9 600.0,954.8 C606.3,954.7 613.7,954.6 620.0,954.3 C626.3,954.0 632.6,953.6 638.0,952.8 C643.4,952.0 648.2,951.0 652.4,949.6 C656.6,948.2 659.6,946.6 663.2,944.2 C666.8,941.8 670.7,938.4 674.0,935.2 C677.3,932.1 680.0,928.9 683.0,925.3 C686.0,921.7 689.0,917.6 692.0,913.6 C695.0,909.6 698.0,905.0 701.0,901.0 C704.0,897.0 707.0,892.9 710.0,889.3 C713.0,885.7 716.0,882.0 719.0,879.4 C722.0,876.8 725.0,875.0 728.0,873.6 C731.0,872.2 734.3,871.8 737.0,871.3 C739.7,870.8 741.5,870.7 744.2,870.8 C746.9,870.9 749.9,871.0 753.2,871.8 C756.5,872.6 760.4,874.1 764.0,875.8 C767.6,877.5 771.2,879.7 774.8,882.1 C778.4,884.5 781.4,887.0 785.6,890.2 C789.8,893.4 794.3,897.2 800.0,901.5 C805.7,905.8 813.3,911.4 820.0,916.0 C826.7,920.6 833.3,925.2 840.0,929.0 C846.7,932.8 853.3,935.8 860.0,938.5 C866.7,941.2 873.3,943.4 880.0,945.0 C886.7,946.6 893.3,947.5 900.0,948.3 C906.7,949.1 913.3,949.5 920.0,950.0 C926.7,950.5 933.3,951.0 940.0,951.4 C946.7,951.8 955.0,952.0 960.0,952.4 C965.0,952.8 967.0,953.2 970.0,953.8 C973.0,954.4 976.7,955.8 978.0,956.2 L978.0,956.4Z" fill="url(#spec)"/>
<rect x="403.1" y="807.00" width="2.7" height="150.70" fill="#000"/>
<rect x="403.1" y="955.00" width="575.6" height="2.7" fill="#000"/>
<g transform="translate(382.16,960.67) scale(0.7702,1)" fill="#000" stroke="#000" stroke-width="0.15" stroke-linejoin="miter" stroke-miterlimit="2.5" font-size="12.24" font-weight="bold" letter-spacing="0.89">
<text x="-0.37" y="0">0.0</text>
<text x="0.37" y="0">0.0</text>
</g>
<g transform="translate(382.16,935.71) scale(0.7702,1)" fill="#000" stroke="#000" stroke-width="0.15" stroke-linejoin="miter" stroke-miterlimit="2.5" font-size="12.24" font-weight="bold" letter-spacing="0.89">
<text x="-0.37" y="0">0.2</text>
<text x="0.37" y="0">0.2</text>
</g>
<g transform="translate(382.21,910.74) scale(0.7406,1)" fill="#000" stroke="#000" stroke-width="0.15" stroke-linejoin="miter" stroke-miterlimit="2.5" font-size="12.24" font-weight="bold" letter-spacing="0.99">
<text x="-0.42" y="0">0.4</text>
<text x="0.42" y="0">0.4</text>
</g>
<g transform="translate(382.17,885.77) scale(0.7658,1)" fill="#000" stroke="#000" stroke-width="0.15" stroke-linejoin="miter" stroke-miterlimit="2.5" font-size="12.24" font-weight="bold" letter-spacing="0.90">
<text x="-0.37" y="0">0.6</text>
<text x="0.37" y="0">0.6</text>
</g>
<g transform="translate(382.18,860.81) scale(0.7615,1)" fill="#000" stroke="#000" stroke-width="0.15" stroke-linejoin="miter" stroke-miterlimit="2.5" font-size="12.24" font-weight="bold" letter-spacing="0.92">
<text x="-0.38" y="0">0.8</text>
<text x="0.38" y="0">0.8</text>
</g>
<g transform="translate(381.92,835.84) scale(0.7905,1)" fill="#000" stroke="#000" stroke-width="0.15" stroke-linejoin="miter" stroke-miterlimit="2.5" font-size="12.24" font-weight="bold" letter-spacing="0.82">
<text x="-0.33" y="0">1.0</text>
<text x="0.33" y="0">1.0</text>
</g>
<g transform="translate(381.92,810.87) scale(0.7905,1)" fill="#000" stroke="#000" stroke-width="0.15" stroke-linejoin="miter" stroke-miterlimit="2.5" font-size="12.24" font-weight="bold" letter-spacing="0.82">
<text x="-0.33" y="0">1.2</text>
<text x="0.33" y="0">1.2</text>
</g>
<g transform="translate(397.04,968.75) scale(0.7765,1)" fill="#000" stroke="#000" stroke-width="0.19" stroke-linejoin="miter" stroke-miterlimit="2.5" font-size="12.33" font-weight="bold" letter-spacing="0.92">
<text x="-0.36" y="0">360</text>
<text x="0.36" y="0">360</text>
</g>
<g transform="translate(559.54,968.75) scale(0.7832,1)" fill="#000" stroke="#000" stroke-width="0.19" stroke-linejoin="miter" stroke-miterlimit="2.5" font-size="12.33" font-weight="bold" letter-spacing="0.89">
<text x="-0.35" y="0">500</text>
<text x="0.35" y="0">500</text>
</g>
<g transform="translate(698.58,968.75) scale(0.7866,1)" fill="#000" stroke="#000" stroke-width="0.19" stroke-linejoin="miter" stroke-miterlimit="2.5" font-size="12.33" font-weight="bold" letter-spacing="0.88">
<text x="-0.34" y="0">600</text>
<text x="0.34" y="0">600</text>
</g>
<g transform="translate(833.43,968.75) scale(0.7900,1)" fill="#000" stroke="#000" stroke-width="0.19" stroke-linejoin="miter" stroke-miterlimit="2.5" font-size="12.33" font-weight="bold" letter-spacing="0.87">
<text x="-0.34" y="0">700</text>
<text x="0.34" y="0">700</text>
</g>
</g>
</svg></body></html>
